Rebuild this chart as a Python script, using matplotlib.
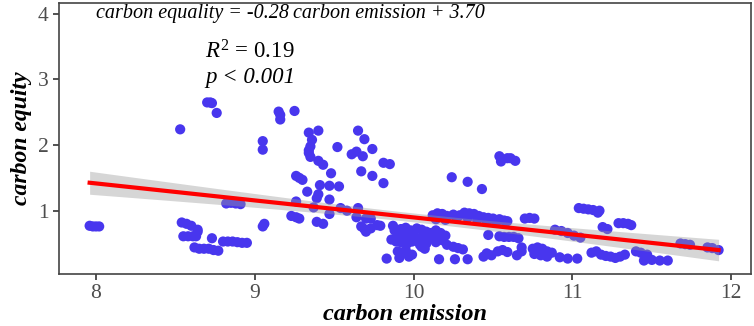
import numpy as np
import matplotlib
matplotlib.use("Agg")
import matplotlib.pyplot as plt

# carbon emission (x) and carbon equity (y)
emission = [
    7.96, 7.98, 8.00, 8.02,
    8.53, 8.70, 8.72, 8.73, 8.76,
    8.54, 8.57, 8.60, 8.64, 8.64,
    8.55, 8.58, 8.61, 8.63,
    8.62, 8.65, 8.68, 8.71, 8.74, 8.77,
    8.73,
    8.80, 8.83, 8.86, 8.89, 8.92, 8.95,
    8.82, 8.85, 8.88, 8.91,
    9.05, 9.06, 9.05, 9.05,
    9.15, 9.16, 9.16, 9.25,
    9.23, 9.26, 9.28,
    9.26, 9.28, 9.30,
    9.33, 9.26,
    9.34, 9.40, 9.36, 9.35, 9.34, 9.35, 9.34, 9.40, 9.43,
    9.52, 9.48,
    9.41, 9.47, 9.53,
    9.40, 9.39, 9.47,
    9.37, 9.47,
    9.39, 9.43,
    9.54, 9.58, 9.65,
    9.64, 9.70,
    9.67, 9.70, 9.69, 9.77,
    9.65, 9.69, 9.74, 9.61, 9.64, 9.68,
    9.81, 9.85,
    9.67, 9.74, 9.81,
    9.73, 9.73, 9.79, 9.87,
    9.86, 9.89,
    9.88, 9.92, 9.95, 9.98, 10.02, 10.05, 10.08, 10.11, 10.14, 10.17, 10.20,
    9.90, 9.94, 9.97, 10.00, 10.03, 10.06, 10.10, 10.13,
    9.92, 9.96, 9.99, 10.04, 10.08, 10.14, 10.18,
    9.83, 9.90, 9.93, 9.95, 9.97, 9.91, 9.99,
    10.05, 10.07,
    10.16, 10.26, 10.34,
    10.21, 10.25, 10.28, 10.31,
    10.12, 10.15, 10.18, 10.21, 10.25, 10.29, 10.32, 10.35, 10.38, 10.41, 10.44, 10.47, 10.50, 10.54, 10.57, 10.59,
    10.14, 10.20, 10.27, 10.34, 10.40, 10.46, 10.52,
    10.24, 10.34, 10.43,
    10.54, 10.55, 10.59, 10.61, 10.64,
    10.47, 10.54, 10.57, 10.60, 10.63, 10.66,
    10.46, 10.44, 10.49, 10.53, 10.56, 10.59,
    10.65,
    10.70, 10.73, 10.76,
    10.68, 10.68,
    10.75, 10.78, 10.81, 10.84, 10.87, 10.76, 10.80, 10.84,
    10.89, 10.93, 10.97, 11.01, 11.05,
    10.92, 10.97, 11.03,
    11.04, 11.07, 11.10, 11.13, 11.17, 11.16,
    11.19, 11.22,
    11.29, 11.32, 11.35, 11.37,
    11.12, 11.15, 11.18, 11.21, 11.24, 11.27, 11.30, 11.33,
    11.40, 11.43, 11.47, 11.45, 11.50, 11.55, 11.60,
    11.68, 11.71, 11.74,
    11.85, 11.88, 11.92,
]
equity = [
    0.77, 0.76, 0.76, 0.76,
    2.24, 2.65, 2.65, 2.64, 2.49,
    0.82, 0.80, 0.77, 0.71, 0.68,
    0.61, 0.61, 0.61, 0.61,
    0.44, 0.42, 0.42, 0.42, 0.40, 0.39,
    0.58,
    0.53, 0.53, 0.53, 0.52, 0.51, 0.51,
    1.11, 1.12, 1.11, 1.10,
    0.76, 0.80, 1.93, 2.06,
    2.51, 2.46, 2.39, 2.52,
    0.92, 0.90, 0.88,
    1.53, 1.50, 1.47,
    1.29, 1.14,
    2.19, 2.22, 2.08, 1.98, 1.88, 1.82, 1.92, 1.76, 1.70,
    1.97, 1.57,
    1.39, 1.38, 1.37,
    1.25, 1.19, 1.17,
    1.05, 0.95,
    0.83, 0.80,
    1.04, 1.00, 1.04,
    0.90, 0.88,
    0.76, 0.68, 0.72, 0.78,
    2.22, 2.09, 1.94, 1.86, 1.90, 1.83,
    1.73, 1.71,
    1.60, 1.53, 1.42,
    0.88, 0.73, 0.77, 0.77,
    0.56, 0.53,
    0.70, 0.72, 0.74, 0.70, 0.73, 0.71, 0.68, 0.66, 0.70, 0.66, 0.62,
    0.62, 0.64, 0.60, 0.62, 0.58, 0.62, 0.58, 0.60,
    0.52, 0.50, 0.53, 0.48, 0.50, 0.52, 0.55,
    0.27, 0.38, 0.35, 0.40, 0.30, 0.28, 0.33,
    0.45, 0.42,
    0.26, 0.26, 0.26,
    0.48, 0.45, 0.43, 0.41,
    0.93, 0.96, 0.95, 0.92, 0.94, 0.93, 0.97, 0.96, 0.95, 0.92, 0.90, 0.89, 0.88, 0.87, 0.85, 0.84,
    0.87, 0.86, 0.88, 0.89, 0.86, 0.83, 0.82,
    1.51, 1.44, 1.33,
    1.83, 1.75, 1.80, 1.80, 1.76,
    0.63, 0.61, 0.60, 0.60, 0.60, 0.58,
    0.35, 0.30, 0.32, 0.38, 0.40, 0.37,
    0.32,
    0.88, 0.89, 0.88,
    0.44, 0.38,
    0.42, 0.44, 0.42, 0.38, 0.36, 0.34, 0.32, 0.30,
    0.71, 0.69, 0.66, 0.62, 0.59,
    0.29, 0.27, 0.27,
    1.04, 1.03, 1.02, 1.01, 1.00, 0.97,
    0.75, 0.72,
    0.81, 0.81, 0.80, 0.78,
    0.36, 0.38, 0.33, 0.31, 0.30, 0.28, 0.30, 0.33,
    0.38, 0.36, 0.33, 0.24, 0.25, 0.24, 0.24,
    0.50, 0.49, 0.48,
    0.44, 0.43, 0.40,
]

eq_text = "carbon equality = -0.28\u2009carbon emission + 3.70"
r2_text = r"$R^{2}$ = 0.19"
p_text = "p < 0.001"

plt.rcParams["font.family"] = ["Liberation Serif", "DejaVu Serif"]
plt.rcParams["mathtext.fontset"] = "custom"
plt.rcParams["mathtext.rm"] = "Liberation Serif"
plt.rcParams["mathtext.it"] = "Liberation Serif:italic"

x = np.array(emission)
y = np.array(equity)

# linear fit with 95% confidence band (like geom_smooth(method="lm"))
slope, intercept = np.polyfit(x, y, 1)
n = len(x)
resid = y - (slope * x + intercept)
s = np.sqrt(np.sum(resid ** 2) / (n - 2))
xs = np.linspace(x.min(), x.max(), 100)
ys = slope * xs + intercept
se = s * np.sqrt(1 / n + (xs - x.mean()) ** 2 / np.sum((x - x.mean()) ** 2))
band = 1.97 * se

fig = plt.figure(figsize=(7.54, 3.26), dpi=100)
ax = fig.add_axes([0.0776, 0.1595, 0.9184, 0.8322])

ax.scatter(x, y, s=54, color="#4836EE", edgecolors="none", zorder=2)
ax.fill_between(xs, ys - band, ys + band, color="#999999", alpha=0.4, lw=0, zorder=3)
ax.plot(xs, ys, color="#FF0000", lw=3, zorder=4)

ax.text(8.0, 4.0, eq_text, fontsize=14.5, style="italic", va="center", ha="left")
ax.text(8.686, 3.42, r2_text, fontsize=16.5, va="center", ha="left")
ax.text(8.686, 3.03, p_text, fontsize=16.5, style="italic", va="center", ha="left")

ax.set_xlim(7.764, 12.124)
ax.set_ylim(0.035, 4.17)
ax.set_xticks([8, 9, 10, 11, 12])
ax.set_yticks([1, 2, 3, 4])
ax.tick_params(labelsize=15.5, labelcolor="#4D4D4D", color="#333333", length=4, width=1.2,
               pad=3)
for sp in ax.spines.values():
    sp.set_color("#444444")
    sp.set_linewidth(1.2)

ax.set_xlabel("carbon emission", fontsize=17.5, fontweight="bold", style="italic")
ax.xaxis.set_label_coords(0.5, -0.148)
ax.xaxis.label.set_va("center")
ax.set_ylabel("carbon equity", fontsize=17, fontweight="bold", style="italic", labelpad=4)

fig.savefig("out.png", dpi=100)
